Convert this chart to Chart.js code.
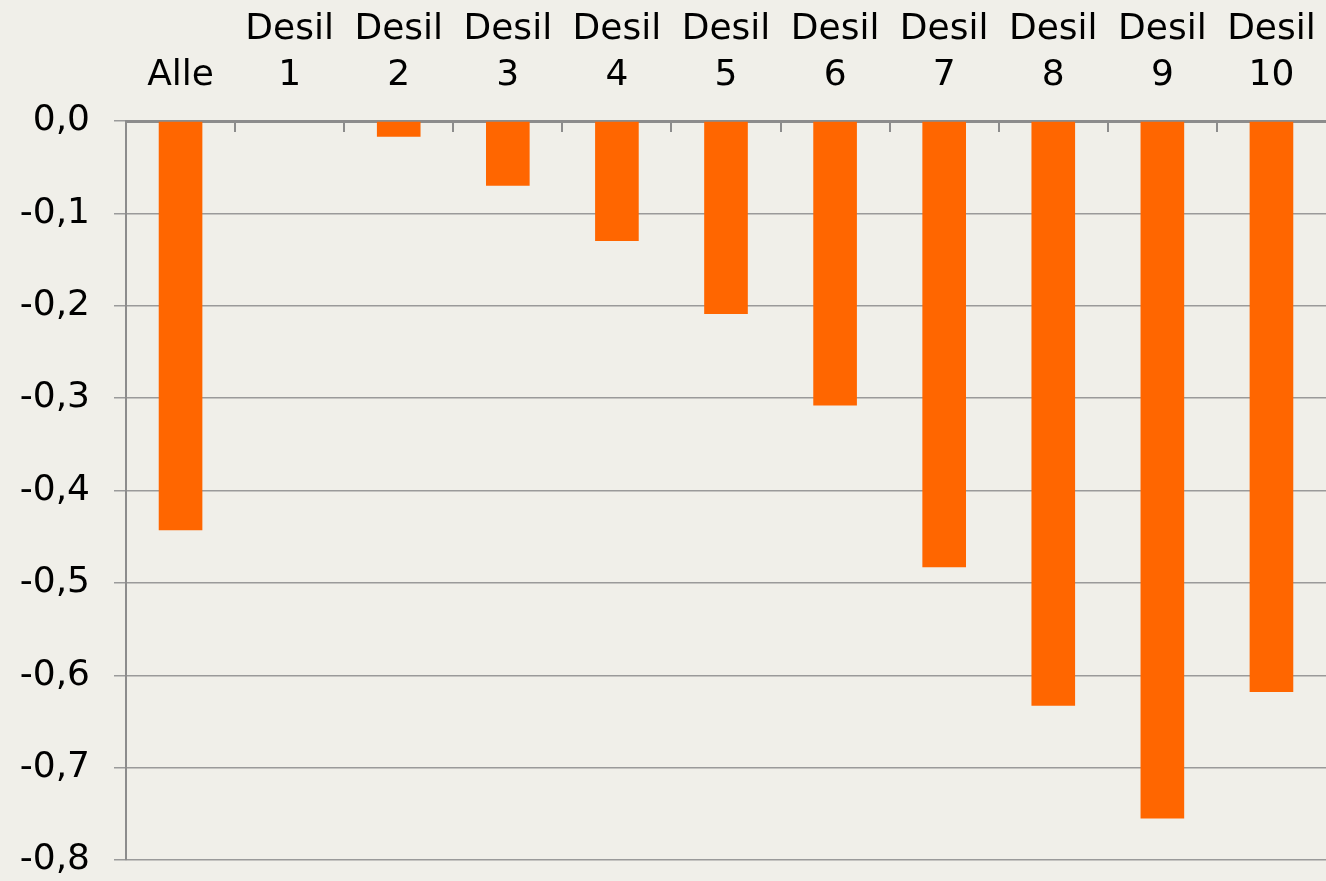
<!DOCTYPE html>
<html>
<head>
<meta charset="utf-8">
<script src="https://cdn.jsdelivr.net/npm/chart.js@4.4.1/dist/chart.umd.min.js"></script>
<style>
    html, body { margin: 0; padding: 0; background: #f0efe9; }
    #boks { width: 1326px; height: 881px; }
</style>
</head>
<body>
<div id="boks"><canvas id="graf"></canvas></div>
<script>
let kategorier = ['Alle', ['Desil', '1'], ['Desil', '2'], ['Desil', '3'], ['Desil', '4'], ['Desil', '5'],
    ['Desil', '6'], ['Desil', '7'], ['Desil', '8'], ['Desil', '9'], ['Desil', '10']];
let verdier = [-0.443, 0, -0.017, -0.070, -0.130, -0.209, -0.308, -0.483, -0.633, -0.755, -0.618];
let yMin = -0.8;
let yMax = 0;
let ySteg = 0.1;

let gra = '#8c8c8c';

// små innvendige streker på x-aksen mellom kategoriene
let indreStreker = {
    id: 'indreStreker',
    afterDatasetsDraw: function(chart) {
        let x = chart.scales.x;
        let ctx = chart.ctx;
        ctx.save();
        ctx.strokeStyle = gra;
        ctx.lineWidth = 2;
        for (let i = 1; i < kategorier.length; i++) {
            let px = Math.round(x.getPixelForValue(i - 0.5));
            ctx.beginPath();
            ctx.moveTo(px, x.bottom);
            ctx.lineTo(px, x.bottom + 11);
            ctx.stroke();
        }
        ctx.restore();
    }
};

Chart.defaults.font.family = '"DejaVu Sans", Verdana, sans-serif';
Chart.defaults.font.size = 36;
Chart.defaults.color = '#000000';

new Chart(document.getElementById('graf'), {
    type: 'bar',
    data: {
        labels: kategorier,
        datasets: [{
            data: verdier,
            backgroundColor: '#ff6600',
            borderWidth: 0,
            barPercentage: 0.4,
            categoryPercentage: 1.0
        }]
    },
    options: {
        responsive: true,
        maintainAspectRatio: false,
        animation: false,
        layout: { padding: { top: 0, right: 0, bottom: 21, left: 0 } },
        plugins: {
            legend: { display: false },
            tooltip: { enabled: false }
        },
        scales: {
            x: {
                position: 'top',
                offset: true,
                grid: { display: false, drawTicks: false },
                border: { display: true, color: gra, width: 3 },
                ticks: {
                    padding: 22,
                    maxRotation: 0,
                    autoSkip: false,
                    font: { size: 36, lineHeight: 1.28 }
                },
                afterFit: function(scale) {
                    scale.height = 121;
                    scale.paddingLeft = 0;
                    scale.paddingRight = 0;
                }
            },
            y: {
                min: yMin,
                max: yMax,
                grid: { color: '#9a9a9a', lineWidth: 1.5, tickLength: 12 },
                border: { display: true, color: gra, width: 2 },
                ticks: {
                    stepSize: ySteg,
                    padding: 24,
                    callback: function(v) {
                        let t = Math.abs(v) < 1e-9 ? '0.0' : v.toFixed(1);
                        return t.replace('.', ',');
                    }
                },
                afterFit: function(scale) {
                    scale.width = 126;
                    scale.paddingTop = 0;
                    scale.paddingBottom = 0;
                }
            }
        }
    },
    plugins: [indreStreker]
});
</script>
</body>
</html>
